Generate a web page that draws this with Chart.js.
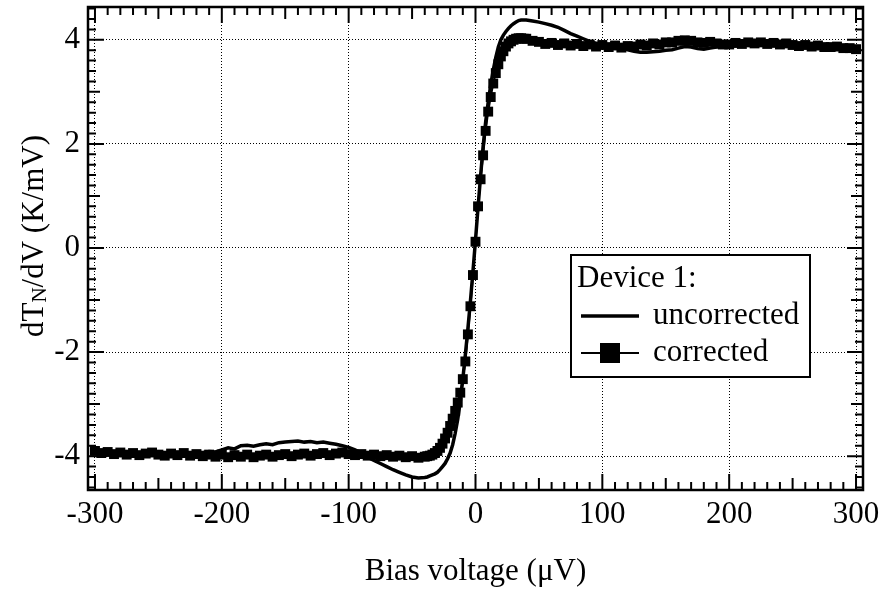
<!DOCTYPE html>
<html>
<head>
<meta charset="utf-8">
<script src="https://cdn.jsdelivr.net/npm/chart.js@4.4.1/dist/chart.umd.min.js"></script>
<style>html,body{margin:0;padding:0;background:#fff}</style>
</head>
<body>
<canvas id="dtdv" width="887" height="592"></canvas>
<script>
// bias voltage (uV) of each sample
var bias = [
  -300,-295,-290,-285,-280,-275,-270,-265,-260,-255,
  -250,-245,-240,-235,-230,-225,-220,-215,-210,-205,
  -200,-195,-190,-185,-180,-175,-170,-165,-160,-155,
  -150,-145,-140,-135,-130,-125,-120,-115,-110,-105,
  -100,-95,-90,-85,-80,-75,-70,-65,-60,-55,
  -50,-45,-40,
  -38,-36,-34,-32,-30,-28,-26,-24,-22,-20,
  -18,-16,-14,-12,-10,-8,-6,-4,-2,0,
  2,4,6,8,10,12,14,16,18,20,
  22,24,26,28,30,32,34,36,38,
  40,45,50,55,60,65,70,75,80,85,
  90,95,100,105,110,115,120,125,130,135,
  140,145,150,155,160,165,170,175,180,185,
  190,195,200,205,210,215,220,225,230,235,
  240,245,250,255,260,265,270,275,280,285,
  290,295,300
];

// dT_N/dV (K/mV)
var uncorrected = [
  -3.92,-3.93,-3.93,-3.94,-3.93,-3.95,-3.94,-3.95,-3.96,-3.95,
  -3.96,-3.95,-3.94,-3.96,-3.93,-3.94,-3.92,-3.93,-3.91,-3.92,
  -3.88,-3.84,-3.86,-3.80,-3.79,-3.81,-3.78,-3.76,-3.78,-3.74,
  -3.73,-3.72,-3.71,-3.73,-3.72,-3.74,-3.73,-3.75,-3.77,-3.80,
  -3.83,-3.88,-3.94,-4.02,-4.08,-4.14,-4.20,-4.26,-4.31,-4.36,
  -4.40,-4.42,-4.41,
  -4.40,-4.38,-4.36,-4.34,-4.31,-4.26,-4.20,-4.14,-4.05,-3.94,
  -3.78,-3.56,-3.29,-2.95,-2.52,-2.05,-1.55,-1.02,-0.45,0.15,
  0.78,1.38,1.95,2.42,2.80,3.13,3.42,3.66,3.86,4.00,
  4.09,4.16,4.22,4.27,4.31,4.34,4.37,4.38,4.38,
  4.38,4.36,4.34,4.31,4.28,4.24,4.18,4.12,4.07,4.02,
  3.97,3.93,3.91,3.88,3.86,3.83,3.81,3.78,3.76,3.76,
  3.77,3.78,3.80,3.81,3.84,3.87,3.86,3.83,3.82,3.84,
  3.86,3.88,3.89,3.88,3.90,3.91,3.90,3.92,3.91,3.90,
  3.92,3.90,3.89,3.90,3.88,3.87,3.88,3.86,3.85,3.86,
  3.84,3.83,3.85
];

var corrected = [
  -3.90,-3.94,-3.92,-3.96,-3.93,-3.97,-3.94,-3.98,-3.95,-3.93,
  -3.97,-3.99,-3.95,-3.98,-3.94,-3.99,-3.96,-4.00,-3.97,-4.01,
  -3.97,-4.02,-3.98,-4.01,-3.97,-4.02,-3.99,-3.97,-4.01,-3.98,
  -3.96,-4.00,-3.97,-3.95,-3.99,-3.96,-3.94,-3.98,-3.95,-3.93,
  -3.96,-3.98,-3.96,-3.99,-3.97,-4.00,-3.98,-4.01,-3.99,-4.02,
  -4.00,-4.03,-4.01,
  -4.00,-3.99,-3.97,-3.94,-3.90,-3.84,-3.76,-3.66,-3.55,-3.42,
  -3.28,-3.13,-2.97,-2.78,-2.52,-2.18,-1.66,-1.12,-0.52,0.12,
  0.80,1.32,1.78,2.25,2.62,2.90,3.16,3.36,3.53,3.68,
  3.78,3.87,3.93,3.97,4.00,4.02,4.03,4.03,4.02,
  4.02,3.98,3.96,3.92,3.94,3.90,3.93,3.89,3.92,3.88,
  3.91,3.87,3.90,3.86,3.89,3.85,3.88,3.87,3.91,3.89,
  3.93,3.91,3.95,3.95,3.98,3.99,3.98,3.95,3.94,3.96,
  3.93,3.91,3.91,3.94,3.92,3.95,3.93,3.95,3.92,3.94,
  3.91,3.93,3.90,3.88,3.90,3.87,3.89,3.86,3.86,3.87,
  3.84,3.84,3.82
];

var seriesNames = ['uncorrected', 'corrected'];
var legendTitle = 'Device 1:';
var xTitle = 'Bias voltage (\u03bcV)';

var serif = '"Liberation Serif", "Times New Roman", serif';

function toPoints(ys) {
  return bias.map(function (b, i) { return { x: b, y: ys[i] }; });
}

// inward ticks on all four sides plus the closed frame
var frameTicks = {
  id: 'frameTicks',
  afterDatasetsDraw: function (chart) {
    var c = chart.ctx, a = chart.chartArea;
    var xs = chart.scales.x, ys = chart.scales.y;
    c.save();
    c.strokeStyle = '#000';
    c.lineWidth = 2;
    c.beginPath();
    for (var i = -30; i <= 30; i++) {
      var len = i % 10 === 0 ? 16 : (i % 5 === 0 ? 12 : 8);
      var px = xs.getPixelForValue(i * 10);
      c.moveTo(px, a.bottom); c.lineTo(px, a.bottom - len);
      c.moveTo(px, a.top); c.lineTo(px, a.top + len);
    }
    for (var j = -23; j <= 23; j++) {
      var len2 = j % 10 === 0 ? 16 : (j % 5 === 0 ? 12 : 8);
      var py = ys.getPixelForValue(j / 5);
      c.moveTo(a.left, py); c.lineTo(a.left + len2, py);
      c.moveTo(a.right, py); c.lineTo(a.right - len2, py);
    }
    c.stroke();
    c.lineWidth = 2.5;
    c.strokeRect(a.left, a.top, a.right - a.left, a.bottom - a.top);
    c.restore();
  },
  afterDraw: function (chart) {
    var c = chart.ctx;
    var ds = chart.data.datasets;
    c.save();
    // y axis title with subscript N
    var big = '31px ' + serif, small = '21px ' + serif;
    var parts = [['dT', big, 0], ['N', small, 3], ['/dV (K/mV)', big, 0]];
    var total = 0;
    parts.forEach(function (p) { c.font = p[1]; total += c.measureText(p[0]).width; });
    c.translate(43, 236);
    c.rotate(-Math.PI / 2);
    c.fillStyle = '#000';
    c.textBaseline = 'alphabetic';
    c.textAlign = 'left';
    var x = -total / 2;
    parts.forEach(function (p) {
      c.font = p[1];
      c.fillText(p[0], x, p[2]);
      x += c.measureText(p[0]).width;
    });
    c.restore();

    // legend box
    c.save();
    c.fillStyle = '#fff';
    c.fillRect(571, 255, 239, 122);
    c.strokeStyle = '#000';
    c.lineWidth = 2;
    c.strokeRect(571, 255, 239, 122);
    c.fillStyle = '#000';
    c.font = '31px ' + serif;
    c.textBaseline = 'middle';
    c.fillText(legendTitle, 577, 279);
    var rows = [316, 353];
    ds.forEach(function (d, k) {
      var y = rows[k];
      c.lineWidth = d.borderWidth;
      c.beginPath(); c.moveTo(581, y); c.lineTo(639, y); c.stroke();
      if (d.pointRadius > 0) c.fillRect(600, y - 10, 20, 20);
      c.fillText(d.label, 653, y);
    });
    c.restore();
  }
};

var ctx = document.getElementById('dtdv');
var myChart = new Chart(ctx, {
  type: 'line',
  data: {
    datasets: [{
      label: seriesNames[0],
      data: toPoints(uncorrected),
      borderColor: '#000',
      borderWidth: 3.5,
      pointRadius: 0
    }, {
      label: seriesNames[1],
      data: toPoints(corrected),
      borderColor: '#000',
      backgroundColor: '#000',
      borderWidth: 2,
      pointStyle: 'rect',
      pointRadius: 7,
      pointBorderWidth: 0
    }]
  },
  options: {
    responsive: false,
    animation: false,
    devicePixelRatio: 1,
    layout: { padding: { top: 7, right: 24, left: 0, bottom: 0 } },
    plugins: { legend: { display: false }, tooltip: { enabled: false } },
    scales: {
      x: {
        type: 'linear',
        min: -305.5,
        max: 305.5,
        ticks: { stepSize: 100, includeBounds: false, padding: 6, color: '#000', maxRotation: 0, autoSkip: false, font: { family: serif, size: 31 } },
        grid: { color: '#000', lineWidth: 1, drawTicks: false },
        border: { display: false, dash: [1, 2] },
        title: { display: true, text: xTitle, color: '#000', font: { family: serif, size: 31 }, padding: { top: 0, bottom: 2 } },
        afterFit: function (s) { s.height = 102; s.paddingLeft = 0; s.paddingRight = 0; }
      },
      y: {
        min: -4.65,
        max: 4.63,
        ticks: { stepSize: 2, includeBounds: false, padding: 8, color: '#000', font: { family: serif, size: 31 } },
        grid: { color: '#000', lineWidth: 1, drawTicks: false },
        border: { display: false, dash: [1, 2] },
        afterFit: function (s) { s.width = 88; s.paddingTop = 0; s.paddingBottom = 0; }
      }
    }
  },
  plugins: [frameTicks]
});
</script>
</body>
</html>
